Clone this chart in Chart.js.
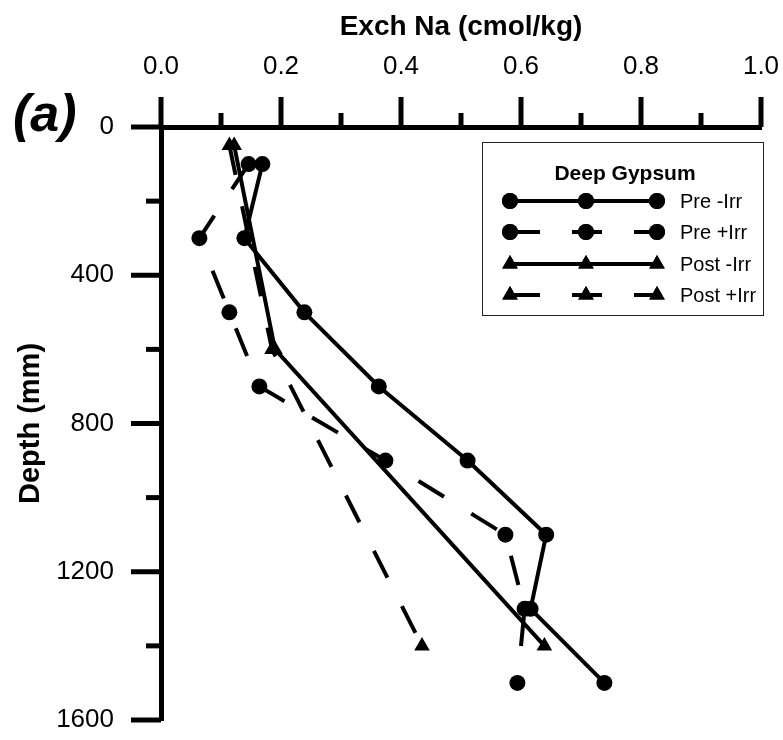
<!DOCTYPE html>
<html lang="en">
<head>
  <meta charset="UTF-8">
  <title>Exch Na - Deep Gypsum</title>
  <script src="https://cdn.jsdelivr.net/npm/chart.js"></script>
  <style>
    body { margin: 0; background: #fff; }
    #wrap { width: 783px; height: 740px; }
  </style>
</head>
<body>
  <div id="wrap"><canvas id="naChart" width="783" height="740"></canvas></div>

  <script>
    // depths (mm) of the samples
    const preDepths = [100, 300, 500, 700, 900, 1100, 1300, 1500];
    const postDepths = [50, 600, 1400];

    // Exch Na (cmol/kg)
    const preMinusIrr = [0.169, 0.139, 0.239, 0.363, 0.511, 0.642, 0.616, 0.739];
    const prePlusIrr = [0.146, 0.064, 0.114, 0.164, 0.374, 0.574, 0.606, 0.594];
    const postMinusIrr = [0.122, 0.190, 0.639];
    const postPlusIrr = [0.114, 0.185, 0.435];

    // axis ticks
    const naTicks = [0, 0.1, 0.2, 0.3, 0.4, 0.5, 0.6, 0.7, 0.8, 0.9, 1.0];
    const depthTicks = [0, 200, 400, 600, 800, 1000, 1200, 1400, 1600];

    const plain = "'Liberation Sans', Arial, sans-serif";

    function toPoints(xs, ys) {
      return xs.map((v, i) => ({ x: v, y: ys[i] }));
    }

    // major/minor tick marks, drawn on top of the chart
    const tickMarks = {
      id: 'tickMarks',
      afterDraw(chart) {
        const { ctx, chartArea, scales: { x, y } } = chart;
        ctx.save();
        ctx.strokeStyle = '#000';
        ctx.lineWidth = 5;
        naTicks.forEach((v, i) => {
          const px = x.getPixelForValue(v);
          const len = i % 2 === 0 ? 30 : 14;
          ctx.beginPath();
          ctx.moveTo(px, chartArea.top);
          ctx.lineTo(px, chartArea.top - len);
          ctx.stroke();
        });
        depthTicks.forEach((v, i) => {
          const py = y.getPixelForValue(v);
          const len = i % 2 === 0 ? 30 : 15;
          ctx.beginPath();
          ctx.moveTo(chartArea.left, py);
          ctx.lineTo(chartArea.left - len, py);
          ctx.stroke();
        });
        // panel letter
        ctx.fillStyle = '#000';
        ctx.font = 'italic bold 52px ' + plain;
        ctx.textBaseline = 'middle';
        ctx.textAlign = 'left';
        ctx.fillText('(a)', 13, 117);
        ctx.restore();
      }
    };

    // boxed legend with three markers per line
    const boxLegend = {
      id: 'boxLegend',
      afterDraw(chart) {
        const ctx = chart.ctx;
        const left = 482, top = 142, right = 763, bottom = 315;
        ctx.save();
        ctx.strokeStyle = '#222';
        ctx.lineWidth = 1;
        ctx.strokeRect(left + 0.5, top + 0.5, right - left, bottom - top);

        ctx.fillStyle = '#000';
        ctx.font = 'bold 21px ' + plain;
        ctx.textAlign = 'center';
        ctx.textBaseline = 'middle';
        ctx.fillText('Deep Gypsum', 625, 174);

        const rows = [201, 232, 264, 295];
        const xs = [510, 586, 657];
        chart.data.datasets.forEach((ds, i) => {
          const yy = rows[i];
          ctx.strokeStyle = '#000';
          ctx.lineWidth = 4;
          ctx.setLineDash(ds.borderDash || []);
          ctx.beginPath();
          ctx.moveTo(xs[0], yy);
          ctx.lineTo(xs[2], yy);
          ctx.stroke();
          ctx.setLineDash([]);
          xs.forEach(px => {
            Chart.helpers.drawPoint(ctx, {
              pointStyle: ds.pointStyle,
              radius: ds.pointRadius,
              rotation: 0,
              borderWidth: 0
            }, px, yy);
            ctx.fill();
          });
          ctx.font = '20px ' + plain;
          ctx.textAlign = 'left';
          ctx.fillText(ds.label, 680, yy + 1);
        });
        ctx.restore();
      }
    };

    const common = {
      borderColor: '#000',
      backgroundColor: '#000',
      borderWidth: 4,
      showLine: true,
      pointBorderWidth: 0,
      pointHoverRadius: 8
    };

    new Chart(document.getElementById('naChart'), {
      type: 'scatter',
      data: {
        datasets: [
          Object.assign({}, common, {
            label: 'Pre -Irr',
            data: toPoints(preMinusIrr, preDepths),
            pointStyle: 'circle',
            pointRadius: 8
          }),
          Object.assign({}, common, {
            label: 'Pre +Irr',
            data: toPoints(prePlusIrr, preDepths),
            pointStyle: 'circle',
            pointRadius: 8,
            borderDash: [30, 32]
          }),
          Object.assign({}, common, {
            label: 'Post -Irr',
            data: toPoints(postMinusIrr, postDepths),
            pointStyle: 'triangle',
            pointRadius: 9
          }),
          Object.assign({}, common, {
            label: 'Post +Irr',
            data: toPoints(postPlusIrr, postDepths),
            pointStyle: 'triangle',
            pointRadius: 9,
            borderDash: [30, 32]
          })
        ]
      },
      options: {
        responsive: false,
        devicePixelRatio: 1,
        animation: false,
        clip: false,
        layout: { padding: { left: 0, top: 0, right: 22, bottom: 20 } },
        plugins: {
          legend: { display: false },
          tooltip: { enabled: false }
        },
        scales: {
          x: {
            type: 'linear',
            position: 'top',
            min: 0,
            max: 1,
            afterFit(scale) {
              scale.height = 127;
              scale.paddingLeft = 0;
              scale.paddingRight = 0;
            },
            grid: { display: false, drawTicks: false },
            border: { display: true, width: 5, color: '#000' },
            ticks: {
              stepSize: 0.2,
              padding: 45,
              color: '#000',
              font: { family: plain, size: 26 },
              callback: v => v.toFixed(1)
            },
            title: {
              display: true,
              text: 'Exch Na (cmol/kg)',
              color: '#000',
              font: { family: plain, size: 28, weight: 'bold' },
              padding: { top: 10, bottom: 0 }
            }
          },
          y: {
            type: 'linear',
            position: 'left',
            reverse: true,
            min: 0,
            max: 1600,
            afterFit(scale) {
              scale.width = 161;
              scale.paddingTop = 0;
              scale.paddingBottom = 0;
            },
            grid: { display: false, drawTicks: false },
            border: { display: true, width: 5, color: '#000' },
            ticks: {
              stepSize: 400,
              padding: 47,
              color: '#000',
              font: { family: plain, size: 26 },
              callback: v => String(v)
            },
            title: {
              display: true,
              text: 'Depth (mm)',
              color: '#000',
              font: { family: plain, size: 29, weight: 'bold' },
              padding: { top: 14, bottom: 0 }
            }
          }
        }
      },
      plugins: [tickMarks, boxLegend]
    });
  </script>
</body>
</html>
